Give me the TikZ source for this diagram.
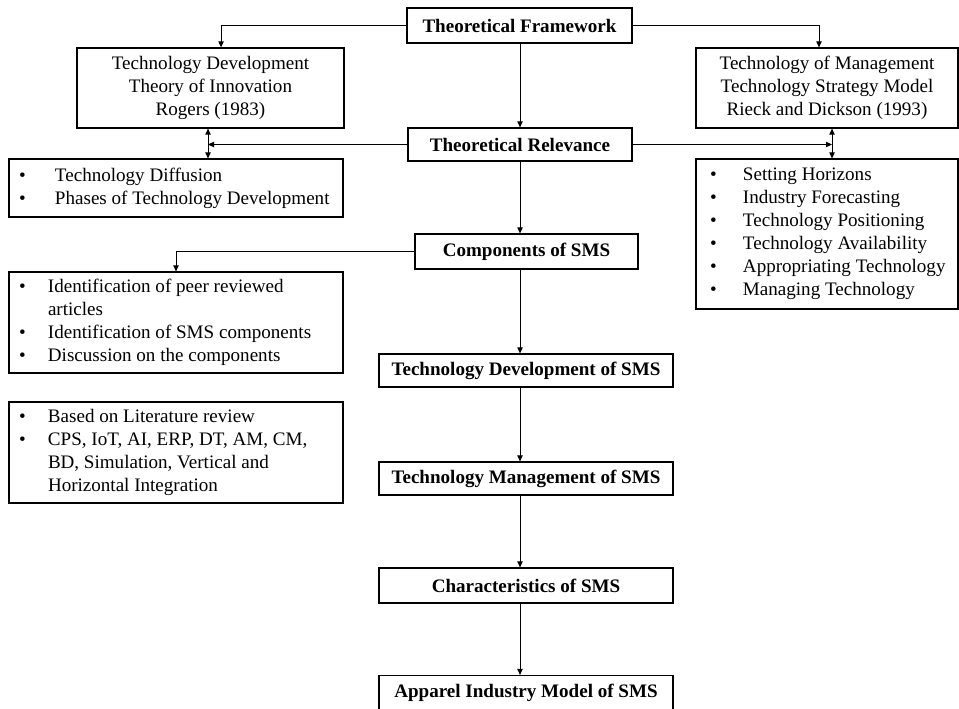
\documentclass[tikz,border=0pt]{standalone}
\usepackage{fontspec}
\setmainfont{Liberation Serif}
\usetikzlibrary{arrows.meta}
\newcommand{\diagfont}{\fontsize{14.3}{17.3}\selectfont}
\newcommand{\bul}[2]{\mbox{\makebox[#1][l]{\textbullet}#2}}
\newcommand{\cont}[2]{\mbox{\hspace*{#1}#2}}
\begin{document}
\begin{tikzpicture}[x=0.75pt,y=-0.75pt,font=\diagfont,box/.style={draw=black, line width=0.9pt, inner sep=0pt, align=center},head/.style={box, font=\diagfont\bfseries},listbox/.style={box, align=flush left, inner xsep=7.5pt, text width=235.5pt},arr/.style={line width=0.7pt, -{Triangle[length=4.5pt,width=4pt]}},dbl/.style={line width=0.7pt, {Triangle[length=4.5pt,width=4pt]}-{Triangle[length=4.5pt,width=4pt]}}]
\useasboundingbox (0,0) rectangle (959,708);
\node[head, minimum width=168.75pt, minimum height=26.25pt] (tf) at (519.5,25.5) {Theoretical Framework};
\node[box, minimum width=200.25pt, minimum height=60pt] (td) at (210.5,88) {Technology Development\\Theory of Innovation\\Rogers (1983)};
\node[box, minimum width=196.5pt, minimum height=60pt] (tm) at (827,88) {Technology of Management\\Technology Strategy Model\\Rieck and Dickson (1993)};
\node[head, minimum width=168pt, minimum height=24.75pt] (tr) at (520,144.5) {Theoretical Relevance};
\node[listbox, minimum height=43.5pt] (diff) at (176,188) {\bul{27pt}{Technology Diffusion}\\\bul{27pt}{Phases of Technology Development}};
\node[listbox, text width=175.5pt, inner xsep=10.5pt, minimum height=112.5pt] (strat) at (827,234) {\bul{24.75pt}{Setting Horizons}\\\bul{24.75pt}{Industry Forecasting}\\\bul{24.75pt}{Technology Positioning}\\\bul{24.75pt}{Technology Availability}\\\bul{24.75pt}{Appropriating Technology}\\\bul{24.75pt}{Managing Technology}};
\node[head, minimum width=167.25pt, minimum height=26.25pt] (comp) at (526.5,251.5) {Components of SMS};
\node[listbox, minimum height=75.75pt] (rev) at (176,322.5) {\bul{21.75pt}{Identification of peer reviewed}\\\cont{21.75pt}{articles}\\\bul{21.75pt}{Identification of SMS components}\\\bul{21.75pt}{Discussion on the components}};
\node[head, minimum width=220.5pt, minimum height=24.75pt] (tds) at (526,370.5) {Technology Development of SMS};
\node[listbox, minimum height=75.75pt] (lit) at (176,452.5) {\bul{21.75pt}{Based on Literature review}\\\bul{21.75pt}{CPS, IoT, AI, ERP, DT, AM, CM,}\\\cont{21.75pt}{BD, Simulation, Vertical and}\\\cont{21.75pt}{Horizontal Integration}};
\node[head, minimum width=220.5pt, minimum height=24.75pt] (tms) at (526,478.5) {Technology Management of SMS};
\node[head, minimum width=220.5pt, minimum height=26.25pt] (char) at (526,585.5) {Characteristics of SMS};
\node[head, minimum width=220.5pt, minimum height=26.25pt] (app) at (526,693) {Apparel Industry Model of SMS};
\coordinate (spine) at (520,0);
\coordinate (lj) at (208,144.5);
\coordinate (rj) at (832,144.5);
\draw[arr] (tf.west) -| ([xshift=7.9pt]td.north);
\draw[arr] (tf.east) -| ([xshift=-6pt]tm.north);
\draw[arr] (spine |- tf.south) -- (spine |- tr.north);
\draw[arr] (tr.west) -- (lj);
\draw[arr] (tr.east) -- (rj);
\draw[dbl] (lj |- td.south) -- (lj |- diff.north);
\draw[dbl] (rj |- tm.south) -- (rj |- strat.north);
\draw[arr] (spine |- tr.south) -- (spine |- comp.north);
\draw[arr] (comp.west) -| (rev.north);
\foreach \a/\b in {comp/tds, tds/tms, tms/char, char/app}
  \draw[arr] (spine |- \a.south) -- (spine |- \b.north);
\end{tikzpicture}
\end{document}
